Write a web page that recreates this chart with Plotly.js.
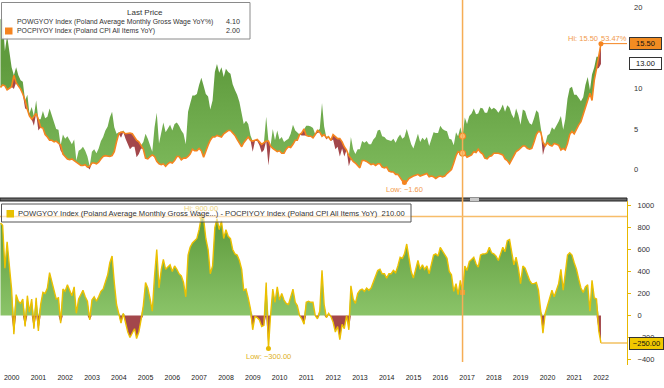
<!DOCTYPE html>
<html><head><meta charset="utf-8">
<script src="https://cdn.plot.ly/plotly-3.0.1.min.js"></script>
<style>html,body{margin:0;padding:0;background:#fff;}#chart{width:664px;height:388px;}</style>
</head><body><div id="chart"></div>
<script>
// ---- data (monthly, Jan 2000 .. Jun 2022) ----
const years = [2000,2001,2002,2003,2004,2005,2006,2007,2008,2009,2010,2011,2012,2013,2014,2015,2016,2017,2018,2019,2020,2021,2022];
const cpiLabel = 'POCPIYOY Index (Poland CPI All Items YoY)';
const wageLabel = 'POWGYOY Index (Poland Average Monthly Gross Wage YoY%)';
const spreadLabel = 'POWGYOY Index (Poland Average Monthly Gross Wage...) - POCPIYOY Index (Poland CPI All Items YoY)';
const cpi = [
10.1,10.4,10.3,9.8,10.0,10.2,11.6,10.7,10.3,9.9,9.3,8.5,
7.4,6.6,6.2,6.6,6.9,6.2,5.2,5.1,4.3,4.0,3.6,3.6,
3.4,3.5,3.3,3.0,1.9,1.6,1.3,1.2,1.3,1.1,0.9,0.8,
0.5,0.5,0.6,0.3,0.4,0.8,0.8,0.7,0.9,1.3,1.6,1.7,
1.6,1.6,1.7,2.2,3.4,4.4,4.6,4.6,4.4,4.5,4.5,4.4,
4.0,3.6,3.4,3.0,2.5,1.4,1.3,1.6,1.8,1.6,1.0,0.7,
0.6,0.7,0.4,0.7,0.9,0.8,1.1,1.6,1.6,1.2,1.4,1.4,
1.6,1.9,2.5,2.3,2.3,2.6,2.3,1.5,2.3,3.0,3.6,4.0,
4.0,4.2,4.1,4.0,4.4,4.6,4.8,4.8,4.5,4.2,3.7,3.3,
2.8,3.3,3.6,4.0,3.6,3.5,3.6,3.7,3.4,3.1,3.3,3.5,
3.5,2.9,2.6,2.4,2.2,2.3,2.0,2.0,2.5,2.8,2.7,3.1,
3.6,3.6,4.3,4.5,5.0,4.2,4.1,4.1,3.9,4.3,4.8,4.6,
4.1,4.3,3.9,4.0,3.6,4.3,4.0,3.8,3.8,3.4,2.8,2.4,
1.7,1.3,1.0,0.8,0.5,0.2,1.1,1.1,1.0,0.8,0.6,0.7,
0.5,0.7,0.7,0.3,0.2,0.3,-0.2,-0.3,-0.3,-0.6,-0.6,-1.0,
-1.4,-1.6,-1.5,-1.1,-0.9,-0.8,-0.7,-0.6,-0.8,-0.7,-0.6,-0.5,
-0.9,-0.8,-0.9,-1.1,-0.9,-0.8,-0.9,-0.8,-0.5,-0.2,0.0,0.8,
1.7,2.2,2.0,2.0,1.9,1.5,1.7,1.8,2.2,2.1,2.5,2.1,
1.9,1.4,1.3,1.6,1.7,2.0,2.0,2.0,1.9,1.8,1.3,1.1,
0.7,1.2,1.7,2.2,2.4,2.6,2.9,2.9,2.6,2.5,2.6,3.4,
4.3,4.7,4.6,3.4,2.9,3.3,3.0,2.9,3.2,3.1,3.0,2.4,
2.6,2.4,3.2,4.3,4.7,4.4,5.0,5.5,5.9,6.8,7.8,8.6,
9.4,8.5,11.0,12.4,13.9,15.5
];
const wage = [
18.5,18.6,14.6,16.5,14.5,12.6,9.9,12.6,11.6,11.0,10.8,7.5,
9.2,6.9,7.7,5.4,8.5,4.8,6.2,7.2,6.3,6.5,7.5,6.6,
5.8,5.0,4.9,2.3,4.3,3.8,4.1,3.5,3.1,3.7,1.1,2.3,
2.5,2.8,2.3,1.6,0.0,2.2,2.5,2.0,2.6,3.5,4.0,4.8,
5.3,6.4,7.1,5.2,4.4,4.6,3.9,4.8,3.8,3.0,2.5,2.8,
2.8,1.5,1.9,2.6,3.4,4.4,3.8,3.1,2.2,5.2,7.0,3.2,
4.8,5.8,4.6,5.1,5.5,4.8,5.6,5.8,5.4,4.8,4.4,3.1,
7.1,8.1,9.1,9.1,9.3,10.4,11.3,10.3,9.3,9.0,7.4,8.5,
12.0,13.0,11.9,12.6,11.4,12.4,12.0,11.8,10.5,9.8,9.2,8.3,
7.0,5.6,6.0,5.6,4.2,2.2,3.5,3.5,3.0,2.1,2.4,6.5,
0.5,2.9,5.0,3.6,4.8,3.7,4.0,3.4,3.6,3.8,4.4,5.5,
4.8,4.5,4.3,4.2,4.2,5.4,5.4,5.3,5.1,4.3,4.5,5.0,
8.2,5.3,3.7,4.2,3.5,3.7,2.5,2.8,1.6,2.6,1.6,2.4,
0.4,4.0,2.5,1.9,2.5,2.5,3.5,3.3,3.5,3.1,3.1,3.7,
4.0,4.8,4.9,4.1,4.0,3.7,3.6,3.5,3.8,3.3,3.9,4.3,
3.8,4.0,5.0,4.1,3.1,2.6,3.5,4.4,3.4,3.9,3.6,4.0,
2.9,3.7,4.6,4.5,4.5,5.4,5.0,4.8,4.7,3.8,3.7,3.0,
4.6,4.1,5.2,4.1,6.4,5.6,6.6,6.9,7.5,6.8,6.9,7.6,
7.5,7.0,7.0,7.8,7.4,7.6,7.4,7.0,7.4,8.0,7.1,7.9,
7.6,6.8,6.3,7.5,6.7,5.5,7.4,7.2,6.3,5.7,5.5,6.3,
7.3,7.0,5.0,1.8,3.1,4.2,4.4,5.2,4.9,5.4,5.9,6.6,
4.9,6.2,8.7,10.0,10.2,9.2,9.2,8.8,8.4,8.9,10.4,11.4,
9.8,11.7,12.6,13.9,12.5,13.0
];
const cursorMonth = '2017-04';   // position of the vertical cursor
const hiChangeText = '53.47%';

// ---- derived ----
const dates = cpi.map((_, i) => {
  const y = years[0] + Math.floor(i / 12), m = i % 12;
  return new Date(Date.UTC(y, m + 1, 0)).toISOString().slice(0, 10);
});
const spread = wage.map((w, i) => Math.round((w - cpi[i]) * 100));
const upper = wage.map((w, i) => Math.max(w, cpi[i]));
const lower = wage.map((w, i) => Math.min(w, cpi[i]));
const pos = spread.map(s => Math.max(s, 0));
const neg = spread.map(s => Math.min(s, 0));
const argmin = a => a.reduce((b, v, i) => v < a[b] ? i : b, 0);
const argmax = a => a.reduce((b, v, i) => v > a[b] ? i : b, 0);
const last = cpi.length - 1;
const cur = dates.findIndex(d => d.startsWith(cursorMonth));
const fmt = v => v.toFixed(2).replace('-', '\u2212');

const W = 627, H = 365;
const PX = p => p / W, PY = p => (H - p) / H;

const ORANGE = '#f5841f', GOLD = '#ecc000', GREEN = '#72ad50', RED = '#a3474b';
const FONT = 'Liberation Sans, Arial, sans-serif';
const greenGrad = (a, b, lo, hi) => ({type: 'vertical', colorscale: [[0, lo], [1, hi]], start: a, stop: b});

const ya = {xaxis: 'x', yaxis: 'y', hoverinfo: 'skip', showlegend: false};
const yb = {xaxis: 'x', yaxis: 'y2', hoverinfo: 'skip', showlegend: false};

const traces = [
  Object.assign({x: dates, y: cpi, mode: 'lines', line: {width: 0}}, ya),
  Object.assign({x: dates, y: upper, mode: 'lines', line: {width: 0}, fill: 'tonexty', fillcolor: GREEN, fillgradient: greenGrad(-2, 13, '#80bc5e', '#5f9b3d')}, ya),
  Object.assign({x: dates, y: cpi, mode: 'lines', line: {width: 0}}, ya),
  Object.assign({x: dates, y: lower, mode: 'lines', line: {width: 0}, fill: 'tonexty', fillcolor: RED}, ya),
  Object.assign({x: dates, y: cpi, mode: 'lines', line: {width: 1.6, color: ORANGE}, name: cpiLabel}, ya),
  Object.assign({x: dates, y: pos, mode: 'lines', line: {width: 0}, fill: 'tozeroy', fillcolor: GREEN, fillgradient: greenGrad(0, 800, '#8bc469', '#629e40')}, yb),
  Object.assign({x: dates, y: neg, mode: 'lines', line: {width: 0}, fill: 'tozeroy', fillcolor: RED}, yb),
  Object.assign({x: dates, y: spread, mode: 'lines', line: {width: 1.4, color: GOLD}, name: spreadLabel}, yb),
  Object.assign({x: [dates[argmin(cpi)], dates[argmax(cpi)]], y: [cpi[argmin(cpi)], cpi[argmax(cpi)]], mode: 'markers', marker: {size: 5, color: ORANGE}}, ya),
  Object.assign({x: [dates[cur], dates[cur]], y: [wage[cur], cpi[cur]], mode: 'markers', marker: {size: 6, color: '#f9c27a', line: {color: ORANGE, width: 1.2}}}, ya),
  Object.assign({x: [dates[argmin(spread)], dates[argmax(spread)]], y: [spread[argmin(spread)], spread[argmax(spread)]], mode: 'markers', marker: {size: 5, color: '#e6b800'}}, yb),
  Object.assign({x: [dates[cur]], y: [spread[cur]], mode: 'markers', marker: {size: 5, symbol: 'square', color: '#f0a030'}}, yb)
];

const shapes = [
  // separator between panes
  {type: 'rect', xref: 'paper', yref: 'paper', x0: 0, x1: 1, y0: PY(201), y1: PY(198), fillcolor: '#6a6a6a', line: {color: '#222', width: 1}, layer: 'above'},
  {type: 'rect', xref: 'paper', yref: 'paper', x0: PX(470), x1: PX(479), y0: PY(201), y1: PY(198), fillcolor: '#c8c8c8', line: {width: 0}, layer: 'above'},
  // cursor line
  {type: 'line', xref: 'x', yref: 'paper', x0: dates[cur], x1: dates[cur], y0: PY(362), y1: 1, line: {color: '#f6ad55', width: 1.5}, layer: 'above'},
  // last price line (top)
  {type: 'line', xref: 'x', yref: 'y', x0: dates[last], x1: '2023-06-20', y0: cpi[last], y1: cpi[last], line: {color: ORANGE, width: 1}, layer: 'above'},
  // hi line and last value line (bottom)
  {type: 'line', xref: 'paper', yref: 'y2', x0: 0, x1: 1, y0: spread[argmax(spread)], y1: spread[argmax(spread)], line: {color: '#f7bd6a', width: 1.5}, layer: 'above'},
  {type: 'line', xref: 'x', yref: 'y2', x0: dates[last], x1: '2023-06-20', y0: spread[last], y1: spread[last], line: {color: '#f2c060', width: 1.5}, layer: 'above'},
  // legend boxes
  {type: 'rect', xref: 'paper', yref: 'paper', x0: PX(1.5), x1: PX(250), y0: PY(39), y1: PY(2.5), fillcolor: 'rgba(255,255,255,0.9)', line: {color: '#8a8a8a', width: 1}, layer: 'above'},
  {type: 'rect', xref: 'paper', yref: 'paper', x0: PX(5), x1: PX(12.5), y0: PY(25.5), y1: PY(18), fillcolor: '#ffffff', line: {width: 0}, layer: 'above'},
  {type: 'rect', xref: 'paper', yref: 'paper', x0: PX(5), x1: PX(12.5), y0: PY(34.5), y1: PY(27.5), fillcolor: ORANGE, line: {width: 0}, layer: 'above'},
  {type: 'rect', xref: 'paper', yref: 'paper', x0: PX(1.5), x1: PX(411), y0: PY(222), y1: PY(204), fillcolor: 'rgba(255,255,255,0.55)', line: {color: '#555', width: 1}, layer: 'above'},
  {type: 'rect', xref: 'paper', yref: 'paper', x0: PX(6.5), x1: PX(14), y0: PY(217.5), y1: PY(210), fillcolor: '#e8c000', line: {width: 0}, layer: 'above'}
];

const tf = (size, color) => ({family: FONT, size: size, color: color});
const ann = (o) => Object.assign({showarrow: false, yanchor: 'middle'}, o);
const annotations = [
  // markers' labels
  ann({xref: 'x', yref: 'y', x: dates[argmin(cpi)], y: cpi[argmin(cpi)], yshift: -7, text: 'Low: ' + fmt(cpi[argmin(cpi)]), font: tf(7.5, '#f29a4a')}),
  ann({xref: 'x', yref: 'y', x: dates[argmax(cpi)], y: cpi[argmax(cpi)], yshift: 5, xshift: -1, xanchor: 'right', text: 'Hi: ' + fmt(cpi[argmax(cpi)]), font: tf(7.5, '#f29a4a')}),
  ann({xref: 'x', yref: 'y', x: dates[argmax(cpi)], y: cpi[argmax(cpi)], yshift: 5, xshift: -2, xanchor: 'left', text: hiChangeText, font: tf(7.5, '#f29a4a')}),
  ann({xref: 'x', yref: 'y2', x: dates[argmin(spread)], y: spread[argmin(spread)], yshift: -8, text: 'Low: ' + fmt(spread[argmin(spread)]), font: tf(7.5, '#e0b020')}),
  ann({xref: 'x', yref: 'y2', x: dates[argmax(spread)], y: spread[argmax(spread)], yshift: 8, text: 'Hi: ' + fmt(spread[argmax(spread)]), font: tf(7.5, '#ecd27a')}),
  // top legend
  ann({xref: 'paper', yref: 'paper', x: PX(125), y: PY(12.5), text: 'Last Price', font: tf(8, '#333')}),
  ann({xref: 'paper', yref: 'paper', x: PX(14.5), y: PY(21.8), xanchor: 'left', text: wageLabel, font: tf(6.9, '#333')}),
  ann({xref: 'paper', yref: 'paper', x: PX(242), y: PY(21.8), xanchor: 'right', text: wage[cur].toFixed(2), font: tf(7.2, '#333')}),
  ann({xref: 'paper', yref: 'paper', x: PX(14.5), y: PY(31), xanchor: 'left', text: cpiLabel, font: tf(6.9, '#333')}),
  ann({xref: 'paper', yref: 'paper', x: PX(242), y: PY(31), xanchor: 'right', text: cpi[cur].toFixed(2), font: tf(7.2, '#333')}),
  // bottom legend
  ann({xref: 'paper', yref: 'paper', x: PX(16), y: PY(213.5), xanchor: 'left', text: spreadLabel + '  ' + fmt(spread[cur]), font: tf(7.6, '#333')}),
  // last-price tags
  ann({xref: 'paper', yref: 'y', x: 1, xshift: 2, xanchor: 'left', y: cpi[last], text: fmt(cpi[last]), bgcolor: '#f28c22', bordercolor: '#333', borderwidth: 1, borderpad: 1, width: 29, font: tf(7.5, '#111')}),
  ann({xref: 'paper', yref: 'y', x: 1, xshift: 2, xanchor: 'left', y: wage[last], text: fmt(wage[last]), bgcolor: '#ffffff', bordercolor: '#333', borderwidth: 1, borderpad: 1, width: 29, font: tf(7.5, '#111')}),
  ann({xref: 'paper', yref: 'y2', x: 1, xshift: 2, xanchor: 'left', y: spread[last], text: fmt(spread[last]), bgcolor: '#f0c800', bordercolor: '#333', borderwidth: 1, borderpad: 1, width: 31, font: tf(7.5, '#111')})
];

const layout = {
  width: 664, height: 388,
  margin: {l: 0, r: 37, t: 0, b: 23, pad: 0},
  paper_bgcolor: '#ffffff', plot_bgcolor: '#ffffff',
  showlegend: false,
  font: {family: FONT, size: 7.5, color: '#333'},
  xaxis: {
    type: 'date', range: ['2000-01-24', '2023-06-20'], anchor: 'y2',
    showgrid: false, zeroline: false, showline: false, ticks: '',
    tickmode: 'array', tickvals: years.map(y => y + '-07-01'), ticktext: years.map(String),
    tickfont: tf(7, '#1a1a1a'), ticklabelstandoff: 7
  },
  yaxis: {
    domain: [PY(198), 1], range: [(169.5 - 198) / 8.12, 169.5 / 8.12], side: 'right',
    showgrid: false, zeroline: false, showline: false, ticks: '',
    tickmode: 'array', tickvals: [0, 5, 10, 15, 20], ticktext: ['0', '5', '10', '15', '20'],
    tickfont: tf(7.5, '#333'), ticklabelstandoff: 6
  },
  yaxis2: {
    domain: [0, PY(201)], range: [(315.5 - 365) / 0.11, (315.5 - 201) / 0.11], side: 'right',
    showgrid: false, zeroline: false, showline: true, linecolor: '#e8b800', linewidth: 1,
    ticks: 'outside', ticklen: 3, tickcolor: '#e8b800', tickwidth: 1.5,
    tickmode: 'array', tickvals: [-400, -200, 0, 200, 400, 600, 800, 1000],
    tickfont: tf(7.5, '#333'), ticklabelstandoff: 5
  },
  shapes: shapes,
  annotations: annotations
};

Plotly.newPlot('chart', traces, layout, {staticPlot: true, displayModeBar: false});
</script>
</body></html>
